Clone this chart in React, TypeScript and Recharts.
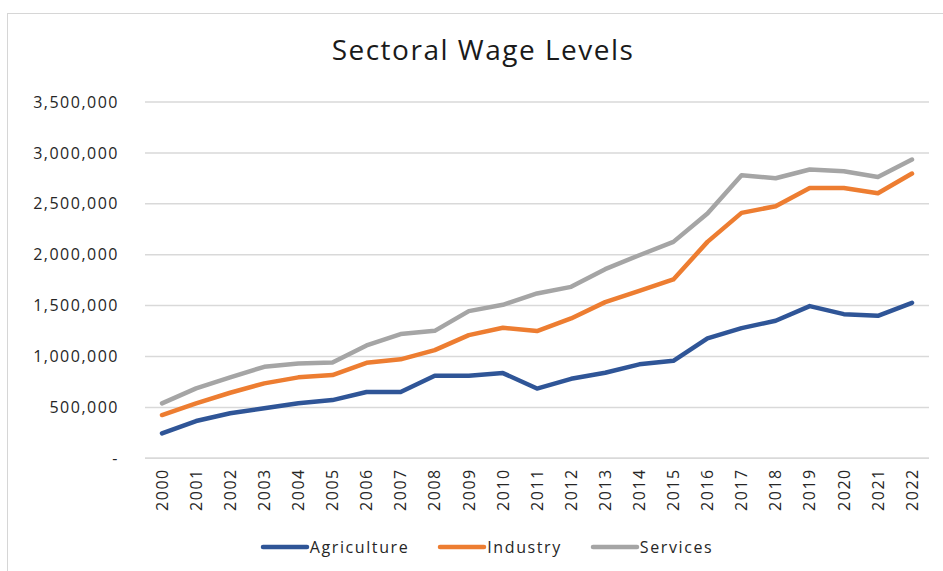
import { CartesianGrid, Legend, Line, LineChart, XAxis, YAxis } from "recharts";

const years = [
  "2000", "2001", "2002", "2003", "2004", "2005", "2006", "2007", "2008", "2009", "2010", "2011",
  "2012", "2013", "2014", "2015", "2016", "2017", "2018", "2019", "2020", "2021", "2022",
];

const agriculture = [
  245000, 366000, 442000, 491000, 540000, 572000, 651000, 651000, 811000, 811000, 837000, 685000,
  781000, 840000, 923000, 958000, 1178000, 1279000, 1351000, 1495000, 1416000, 1400000, 1527000,
];

const industry = [
  425000, 540000, 644000, 736000, 795000, 818000, 938000, 972000, 1063000, 1210000, 1282000, 1250000,
  1374000, 1534000, 1645000, 1757000, 2126000, 2411000, 2476000, 2656000, 2656000, 2604000, 2797000,
];

const services = [
  540000, 687000, 795000, 899000, 932000, 940000, 1109000, 1220000, 1252000, 1446000, 1508000, 1619000,
  1684000, 1858000, 1995000, 2126000, 2405000, 2781000, 2751000, 2837000, 2820000, 2764000, 2935000,
];

const yTicks = [0, 500000, 1000000, 1500000, 2000000, 2500000, 3000000, 3500000];

const series = [
  { key: "Agriculture", color: "#2F5597" },
  { key: "Industry", color: "#ED7D31" },
  { key: "Services", color: "#A5A5A5" },
];

const data = years.map((year, i) => ({
  year,
  Agriculture: agriculture[i],
  Industry: industry[i],
  Services: services[i],
}));

const font = "'Open Sans', sans-serif";

const fmt = (v: number) => (v === 0 ? "-" : v.toLocaleString("en-US"));

function YearTick({ x, y, payload }: any) {
  return (
    <text
      x={x}
      y={y + 2}
      transform={`rotate(-90, ${x}, ${y + 2})`}
      textAnchor="end"
      dy="0.36em"
      fill="#262626"
      fontSize={16}
      fontFamily={font}
      letterSpacing={1.5}
    >
      {payload.value}
    </text>
  );
}

function LegendBox() {
  return (
    <div
      style={{
        display: "flex",
        justifyContent: "center",
        alignItems: "center",
        gap: 28,
        height: 24,
        paddingBottom: 12,
        paddingLeft: 30,
        fontFamily: font,
        fontSize: 16,
        letterSpacing: 1.6,
        color: "#262626",
      }}
    >
      {series.map((s) => (
        <div key={s.key} style={{ display: "flex", alignItems: "center" }}>
          <svg width={50} height={8}>
            <line x1={3} y1={4} x2={47} y2={4} stroke={s.color} strokeWidth={4.5} strokeLinecap="round" />
          </svg>
          <span>{s.key}</span>
        </div>
      ))}
    </div>
  );
}

export default function App() {
  return (
    <div style={{ position: "absolute", left: 0, top: 0, width: 943, height: 571, background: "#fff", overflow: "hidden" }}>
      <div
        style={{
          position: "absolute",
          left: 7,
          top: 13,
          width: 960,
          height: 600,
          border: "1.5px solid #d6d6d6",
        }}
      />
      <div
        style={{
          position: "absolute",
          left: 0,
          top: 30,
          width: 966,
          textAlign: "center",
          fontFamily: font,
          fontSize: 28,
          letterSpacing: 1.5,
          color: "#1a1a1a",
        }}
      >
        Sectoral Wage Levels
      </div>
      <LineChart
        width={943}
        height={571}
        data={data}
        margin={{ top: 102, right: 14, bottom: 0, left: 0 }}
        style={{ position: "absolute", left: 0, top: 0 }}
      >
        <CartesianGrid vertical={false} stroke="#d9d9d9" strokeWidth={1.5} />
        <XAxis
          dataKey="year"
          interval={0}
          height={76.7}
          padding={{ left: 17, right: 17 }}
          tickLine={false}
          axisLine={{ stroke: "#d9d9d9", strokeWidth: 1.5 }}
          tick={<YearTick />}
        />
        <YAxis
          width={145}
          domain={[0, 3500000]}
          ticks={yTicks}
          tickFormatter={fmt}
          tickLine={false}
          axisLine={false}
          tickMargin={20}
          tick={{ fill: "#262626", fontSize: 16, fontFamily: font, letterSpacing: 1.5 }}
        />
        {series.map((s) => (
          <Line
            key={s.key}
            type="linear"
            dataKey={s.key}
            stroke={s.color}
            strokeWidth={4.5}
            strokeLinecap="round"
            strokeLinejoin="round"
            dot={false}
            activeDot={false}
            isAnimationActive={false}
          />
        ))}
        <Legend verticalAlign="bottom" wrapperStyle={{ left: 0, width: 943 }} content={<LegendBox />} />
      </LineChart>
    </div>
  );
}
